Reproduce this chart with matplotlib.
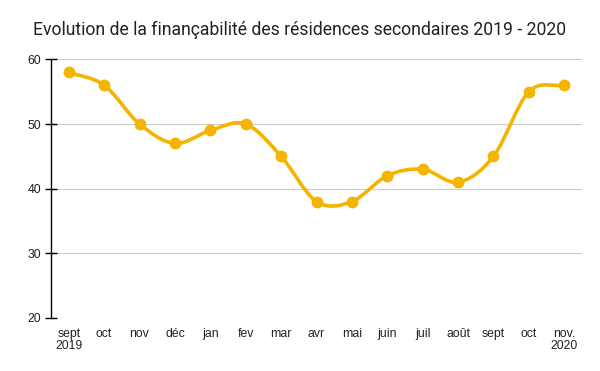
import numpy as np
import matplotlib
matplotlib.use("Agg")
import matplotlib.pyplot as plt
from matplotlib.path import Path
from matplotlib.patches import PathPatch

# ── Data ──────────────────────────────────────────────────
months = ["sept\n2019", "oct", "nov", "déc", "jan", "fev", "mar", "avr",
          "mai", "juin", "juil", "août", "sept", "oct", "nov.\n2020"]
values = [58, 56, 50, 47, 49, 50, 45, 38, 38, 42, 43, 41, 45, 55, 56]

YELLOW = "#F4B400"

fig = plt.figure(figsize=(6.0, 3.71), dpi=100)
ax = fig.add_axes([0.085, 0.143, 0.885, 0.697])

x = np.arange(len(values))
y = np.array(values, dtype=float)

# smooth curve (Catmull-Rom style bezier through the points)
tang = np.empty_like(y)
tang[1:-1] = (y[2:] - y[:-2]) / 2
tang[0] = y[1] - y[0]
tang[-1] = y[-1] - y[-2]
verts = [(x[0], y[0])]
codes = [Path.MOVETO]
for i in range(len(x) - 1):
    verts += [(x[i] + 1 / 3, y[i] + tang[i] / 3),
              (x[i + 1] - 1 / 3, y[i + 1] - tang[i + 1] / 3),
              (x[i + 1], y[i + 1])]
    codes += [Path.CURVE4] * 3
ax.add_patch(PathPatch(Path(verts, codes), facecolor="none",
                       edgecolor=YELLOW, lw=2.6, zorder=3, capstyle="round"))
ax.plot(x, y, "o", color=YELLOW, ms=7.5, zorder=4)

ax.set_xlim(-0.5, len(values) - 0.5)
ax.set_ylim(20, 60)
ax.set_yticks([20, 30, 40, 50, 60])
ax.set_xticks(x)
ax.set_xticklabels(months, family="Liberation Sans", fontsize=8.8,
                   linespacing=1.05, color="#222222")
for lab in ax.get_yticklabels():
    lab.set_family("Liberation Sans")
    lab.set_fontsize(8.8)
    lab.set_color("#222222")
ax.grid(axis="y", color="#cccccc", lw=0.8)
ax.set_axisbelow(True)
for s in ["top", "right", "bottom"]:
    ax.spines[s].set_visible(False)
ax.spines["left"].set_linewidth(1.0)
ax.tick_params(axis="y", direction="inout", length=8, width=1.0, pad=3)
ax.tick_params(axis="x", length=0, pad=7)

fig.text(0.5, 0.92, "Evolution de la finançabilité des résidences secondaires 2019 - 2020",
         ha="center", va="center", family="Roboto", fontsize=12.7, color="#222222")

fig.savefig("out.png", dpi=100, facecolor="white")
